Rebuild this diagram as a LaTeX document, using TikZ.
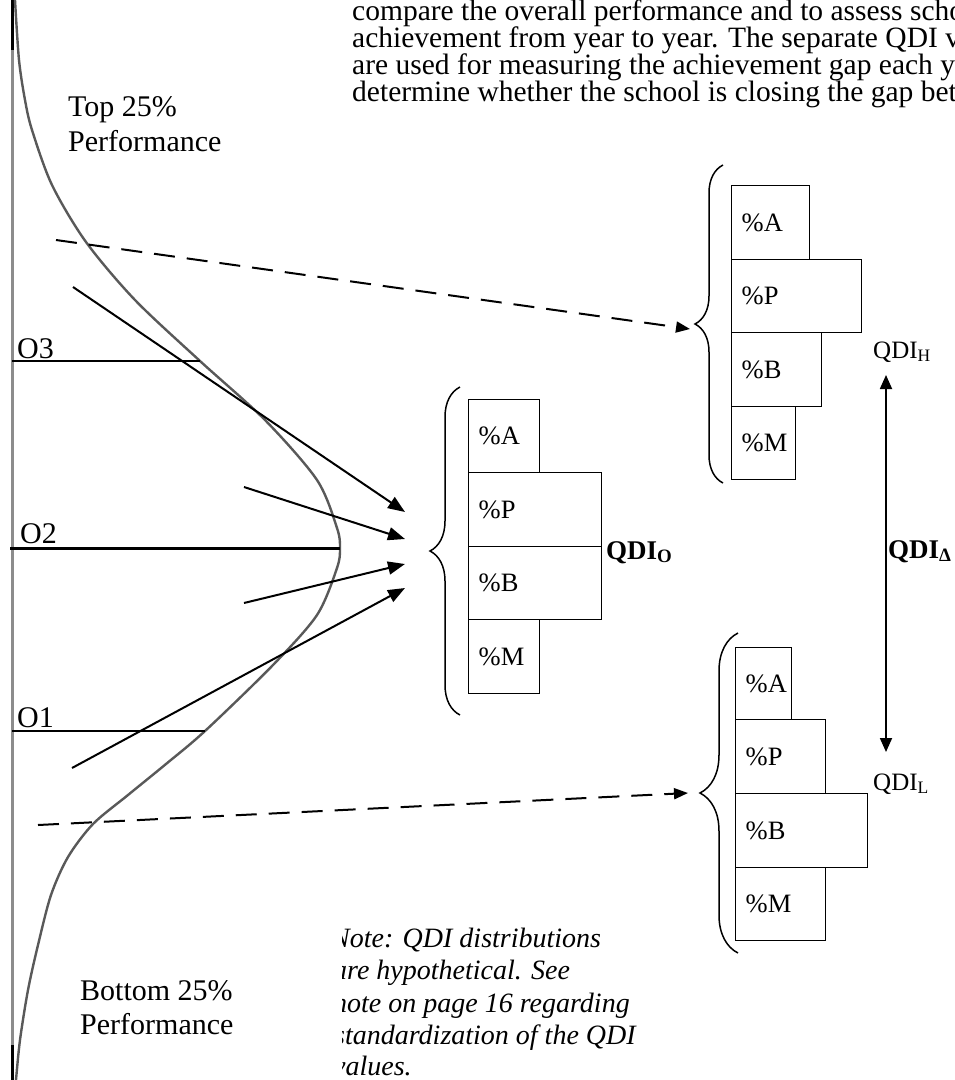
\documentclass[tikz,border=0pt]{standalone}
\usepackage{fontspec}
\setmainfont{Liberation Serif}
\usetikzlibrary{arrows.meta,decorations.pathreplacing}
\begin{document}
\begin{tikzpicture}[x=1pt,y=-1pt,
  lbl/.style={font=\fontsize{30}{34}\selectfont, inner sep=0pt, anchor=base west},
  para/.style={font=\fontsize{29.5}{27}\selectfont, inner sep=0pt, anchor=base west},
  note/.style={font=\fontsize{28}{33}\selectfont\itshape, inner sep=0pt, anchor=base west},
  bar/.style={draw, line width=1.4pt, anchor=north west, font=\fontsize{26.5}{28}\selectfont, align=left, inner xsep=10pt, inner ysep=0pt},
  qdi/.style={font=\fontsize{25}{28}\selectfont, inner sep=0pt, anchor=base west},
  qdib/.style={font=\fontsize{27}{28}\selectfont\bfseries, inner sep=0pt, anchor=base west},
  brc/.style={draw, line width=1.5pt, decorate},
  solidarrow/.style={line width=2pt, -{Triangle[length=17pt,width=13pt]}},
  dasharrow/.style={line width=2pt, dash pattern=on 21pt off 12pt, -{Triangle[length=14pt,width=11pt]}},
  quart/.style={line width=1.3pt},
]
\useasboundingbox (0,0) rectangle (955,1080);

% paragraph (cut by the page edge, as in the reference)
\node[para] (p1) at (352,20) {compare the overall performance and to assess scho};
\node[para] (p2) at (352,47) {achievement from year to year. The separate QDI v};
\node[para] (p3) at (352,74) {are used for measuring the achievement gap each y};
\node[para] (p4) at (352,101) {determine whether the school is closing the gap bet};

% axis and curve
\draw[line width=3pt, black!45] (12,0) -- (12,1080);
\draw[line width=3pt, black] (12,0) -- (12,50);
\draw[line width=3pt, black] (12,1045) -- (12,1080);
\draw[line width=2.4pt, black!65, smooth] plot coordinates {
 (15,0) (19,60) (25,100) (32,130) (52,185) (86,242) (135,300) (200,361) (265,420) (317,480) (337,528) (340,548) (337,568) (317,615) (273,665) (205,731) (166,764) (128,795) (93,824) (68,857) (51,895) (38,945) (28,990) (20,1040) (16,1080)};

% quartile lines
\draw[quart] (12,361) -- (200,361);
\draw[line width=3pt] (10,548) -- (340,548);
\draw[quart] (12,731) -- (205,731);
\node[lbl] (q3) at (17,358) {O3};
\node[lbl] (q2) at (20,543) {O2};
\node[lbl] (q1) at (17,727) {O1};

\node[lbl] (top1) at (68,116) {Top 25\%};
\node[lbl] (top2) at (68,151) {Performance};
\node[lbl] (bot1) at (80,1000) {Bottom 25\%};
\node[lbl] (bot2) at (80,1034) {Performance};

% middle distribution
\node[bar, text width=51pt, minimum height=73pt] (oA) at (468,399) {\%A};
\node[bar, text width=113pt, minimum height=74pt] (oP) at (468,472) {\%P};
\node[bar, text width=113pt, minimum height=73pt] (oB) at (468,546) {\%B};
\node[bar, text width=51pt, minimum height=74pt] (oM) at (468,619) {\%M};
\draw[brc, decoration={brace, amplitude=30pt}] (460,715) -- (460,387);
\node[qdib] (qo) at (606,559) {QDI\textsubscript{O}};

% top-right distribution
\node[bar, text width=58pt, minimum height=74pt] (hA) at (731,185) {\%A};
\node[bar, text width=110pt, minimum height=73pt] (hP) at (731,259) {\%P};
\node[bar, text width=70pt, minimum height=74pt] (hB) at (731,332) {\%B};
\node[bar, text width=44pt, minimum height=73pt] (hM) at (731,406) {\%M};
\draw[brc, decoration={brace, amplitude=28pt}] (723,483) -- (723,165);
\node[qdi] (qh) at (873,358) {QDI\textsubscript{H}};

% bottom-right distribution
\node[bar, text width=36pt, minimum height=72pt] (lA) at (735,647) {\%A};
\node[bar, text width=70pt, minimum height=74pt] (lP) at (735,719) {\%P};
\node[bar, text width=112pt, minimum height=74pt] (lB) at (735,793) {\%B};
\node[bar, text width=70pt, minimum height=73pt] (lM) at (735,867) {\%M};
\draw[brc, decoration={brace, amplitude=38pt}] (738,953) -- (738,633);
\node[qdi] (ql) at (873,790) {QDI\textsubscript{L}};

\node[qdib] (qd) at (888,558) {QDI\textsubscript{Δ}};

% arrows
\coordinate (a1s) at (73,287);  \coordinate (a1e) at (405,512);
\coordinate (a2s) at (244,487); \coordinate (a2e) at (405,539);
\coordinate (a3s) at (244,603); \coordinate (a3e) at (405,564);
\coordinate (a4s) at (72,768);  \coordinate (a4e) at (405,588);
\draw[solidarrow] (a1s) -- (a1e);
\draw[solidarrow] (a2s) -- (a2e);
\draw[solidarrow] (a3s) -- (a3e);
\draw[solidarrow] (a4s) -- (a4e);

\coordinate (d1s) at (56,240); \coordinate (d1e) at (690,329);
\coordinate (d2s) at (38,825); \coordinate (d2e) at (688,793);
\draw[dasharrow] (d1s) -- (d1e);
\draw[dasharrow] (d2s) -- (d2e);

\coordinate (gt) at (886,375); \coordinate (gb) at (886,752);
\draw[line width=1.8pt, {Triangle[length=14pt,width=12pt]}-{Triangle[length=14pt,width=12pt]}] (gt) -- (gb);

% note, cut on the left as in the reference
\begin{scope}
\clip (342,900) rectangle (955,1080);
\node[note] (n1) at (331,947) {Note: QDI distributions};
\node[note] (n2) at (333,979.5) {are hypothetical. See};
\node[note] (n3) at (333,1012) {note on page 16 regarding};
\node[note] (n4) at (334,1044) {standardization of the QDI};
\node[note] (n5) at (333,1075) {values.};
\end{scope}
\end{tikzpicture}
\end{document}
